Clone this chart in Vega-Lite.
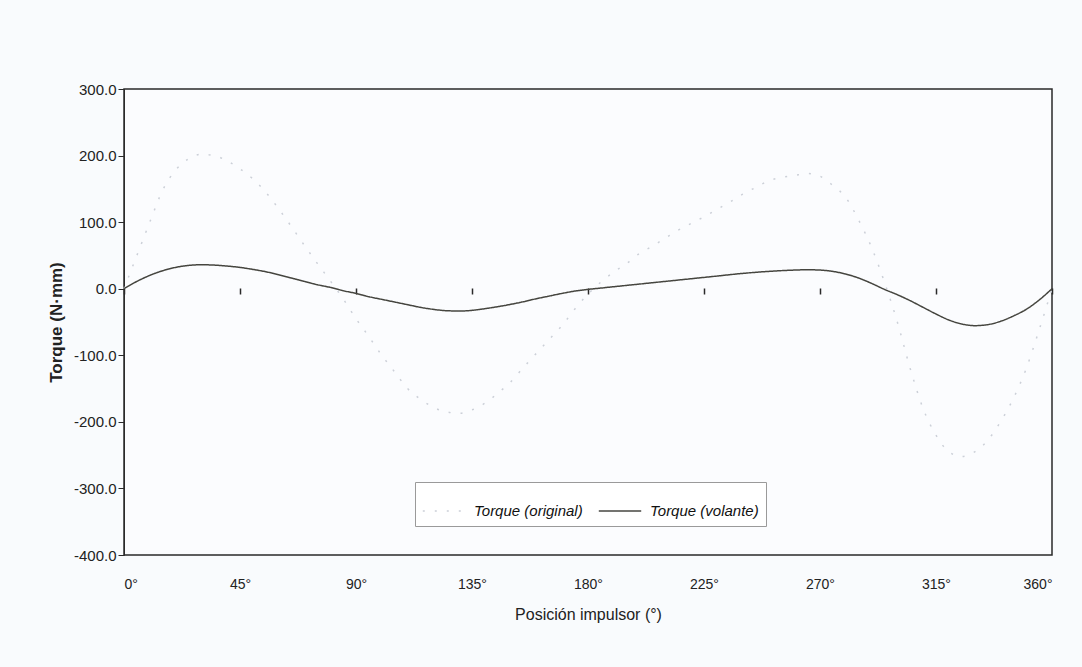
{
  "$schema": "https://vega.github.io/schema/vega-lite/v6.json",
  "width": 928,
  "height": 466,
  "autosize": {"type": "none"},
  "padding": {"left": 124, "top": 89, "right": 30, "bottom": 112},
  "background": "#f9fbfd",
  "config": {
    "font": "Liberation Sans",
    "view": {"stroke": "#2a2a2a", "strokeWidth": 1.5, "fill": "#fbfcfe"},
    "axis": {"grid": false, "labelColor": "#222", "titleColor": "#222", "domainColor": "#2a2a2a", "tickColor": "#2a2a2a"}
  },
  "resolve": {"axis": {"x": "independent"}},
  "layer": [
    {
      "mark": {"type": "rule", "color": "#2a2a2a", "strokeWidth": 1.5},
      "encoding": {
        "x": {"datum": 0, "type": "quantitative", "scale": {"domain": [0, 360], "nice": false},
          "axis": {"orient": "bottom", "offset": -267, "values": [0, 45, 90, 135, 180, 225, 270, 315, 360], "labels": false, "title": null, "domain": false, "ticks": true, "tickSize": 6, "tickWidth": 1.5}},
        "x2": {"datum": 360},
        "y": {"datum": 0, "type": "quantitative"}
      }
    },
    {
      "data": {"values": [
        {"pos": 0, "serie": "Torque (original)", "torque": 0},
        {"pos": 5, "serie": "Torque (original)", "torque": 50},
        {"pos": 10, "serie": "Torque (original)", "torque": 100},
        {"pos": 15, "serie": "Torque (original)", "torque": 148},
        {"pos": 20, "serie": "Torque (original)", "torque": 178},
        {"pos": 25, "serie": "Torque (original)", "torque": 195},
        {"pos": 30, "serie": "Torque (original)", "torque": 202},
        {"pos": 35, "serie": "Torque (original)", "torque": 200},
        {"pos": 40, "serie": "Torque (original)", "torque": 192},
        {"pos": 45, "serie": "Torque (original)", "torque": 180},
        {"pos": 50, "serie": "Torque (original)", "torque": 165},
        {"pos": 55, "serie": "Torque (original)", "torque": 145},
        {"pos": 60, "serie": "Torque (original)", "torque": 120},
        {"pos": 65, "serie": "Torque (original)", "torque": 93},
        {"pos": 70, "serie": "Torque (original)", "torque": 65},
        {"pos": 75, "serie": "Torque (original)", "torque": 38},
        {"pos": 80, "serie": "Torque (original)", "torque": 12},
        {"pos": 85, "serie": "Torque (original)", "torque": -15},
        {"pos": 90, "serie": "Torque (original)", "torque": -45},
        {"pos": 95, "serie": "Torque (original)", "torque": -72},
        {"pos": 100, "serie": "Torque (original)", "torque": -100},
        {"pos": 105, "serie": "Torque (original)", "torque": -125},
        {"pos": 110, "serie": "Torque (original)", "torque": -150},
        {"pos": 115, "serie": "Torque (original)", "torque": -166},
        {"pos": 120, "serie": "Torque (original)", "torque": -178},
        {"pos": 125, "serie": "Torque (original)", "torque": -185},
        {"pos": 130, "serie": "Torque (original)", "torque": -187},
        {"pos": 135, "serie": "Torque (original)", "torque": -182},
        {"pos": 140, "serie": "Torque (original)", "torque": -172},
        {"pos": 145, "serie": "Torque (original)", "torque": -157},
        {"pos": 150, "serie": "Torque (original)", "torque": -140},
        {"pos": 155, "serie": "Torque (original)", "torque": -118},
        {"pos": 160, "serie": "Torque (original)", "torque": -97},
        {"pos": 165, "serie": "Torque (original)", "torque": -76},
        {"pos": 170, "serie": "Torque (original)", "torque": -55},
        {"pos": 175, "serie": "Torque (original)", "torque": -30},
        {"pos": 180, "serie": "Torque (original)", "torque": -8},
        {"pos": 185, "serie": "Torque (original)", "torque": 10},
        {"pos": 190, "serie": "Torque (original)", "torque": 25},
        {"pos": 195, "serie": "Torque (original)", "torque": 38},
        {"pos": 200, "serie": "Torque (original)", "torque": 53},
        {"pos": 205, "serie": "Torque (original)", "torque": 64},
        {"pos": 210, "serie": "Torque (original)", "torque": 76},
        {"pos": 215, "serie": "Torque (original)", "torque": 88},
        {"pos": 220, "serie": "Torque (original)", "torque": 98},
        {"pos": 225, "serie": "Torque (original)", "torque": 108},
        {"pos": 230, "serie": "Torque (original)", "torque": 119},
        {"pos": 235, "serie": "Torque (original)", "torque": 130},
        {"pos": 240, "serie": "Torque (original)", "torque": 142},
        {"pos": 245, "serie": "Torque (original)", "torque": 152},
        {"pos": 250, "serie": "Torque (original)", "torque": 162},
        {"pos": 255, "serie": "Torque (original)", "torque": 167},
        {"pos": 260, "serie": "Torque (original)", "torque": 170},
        {"pos": 265, "serie": "Torque (original)", "torque": 173},
        {"pos": 270, "serie": "Torque (original)", "torque": 169},
        {"pos": 275, "serie": "Torque (original)", "torque": 155},
        {"pos": 280, "serie": "Torque (original)", "torque": 137},
        {"pos": 285, "serie": "Torque (original)", "torque": 103},
        {"pos": 290, "serie": "Torque (original)", "torque": 62},
        {"pos": 295, "serie": "Torque (original)", "torque": 10},
        {"pos": 300, "serie": "Torque (original)", "torque": -50},
        {"pos": 305, "serie": "Torque (original)", "torque": -120},
        {"pos": 310, "serie": "Torque (original)", "torque": -180},
        {"pos": 315, "serie": "Torque (original)", "torque": -220},
        {"pos": 320, "serie": "Torque (original)", "torque": -245},
        {"pos": 325, "serie": "Torque (original)", "torque": -252},
        {"pos": 330, "serie": "Torque (original)", "torque": -245},
        {"pos": 335, "serie": "Torque (original)", "torque": -228},
        {"pos": 340, "serie": "Torque (original)", "torque": -200},
        {"pos": 345, "serie": "Torque (original)", "torque": -165},
        {"pos": 350, "serie": "Torque (original)", "torque": -120},
        {"pos": 355, "serie": "Torque (original)", "torque": -62},
        {"pos": 360, "serie": "Torque (original)", "torque": 0},
        {"pos": 0, "serie": "Torque (volante)", "torque": 0},
        {"pos": 5, "serie": "Torque (volante)", "torque": 11},
        {"pos": 10, "serie": "Torque (volante)", "torque": 20},
        {"pos": 15, "serie": "Torque (volante)", "torque": 27},
        {"pos": 20, "serie": "Torque (volante)", "torque": 32},
        {"pos": 25, "serie": "Torque (volante)", "torque": 35},
        {"pos": 30, "serie": "Torque (volante)", "torque": 36},
        {"pos": 35, "serie": "Torque (volante)", "torque": 35.5},
        {"pos": 40, "serie": "Torque (volante)", "torque": 34},
        {"pos": 45, "serie": "Torque (volante)", "torque": 32},
        {"pos": 50, "serie": "Torque (volante)", "torque": 29},
        {"pos": 55, "serie": "Torque (volante)", "torque": 25.5},
        {"pos": 60, "serie": "Torque (volante)", "torque": 21},
        {"pos": 65, "serie": "Torque (volante)", "torque": 16},
        {"pos": 70, "serie": "Torque (volante)", "torque": 11},
        {"pos": 75, "serie": "Torque (volante)", "torque": 6},
        {"pos": 80, "serie": "Torque (volante)", "torque": 2},
        {"pos": 85, "serie": "Torque (volante)", "torque": -3},
        {"pos": 90, "serie": "Torque (volante)", "torque": -7},
        {"pos": 95, "serie": "Torque (volante)", "torque": -12},
        {"pos": 100, "serie": "Torque (volante)", "torque": -16},
        {"pos": 105, "serie": "Torque (volante)", "torque": -20},
        {"pos": 110, "serie": "Torque (volante)", "torque": -24},
        {"pos": 115, "serie": "Torque (volante)", "torque": -28},
        {"pos": 120, "serie": "Torque (volante)", "torque": -31},
        {"pos": 125, "serie": "Torque (volante)", "torque": -33},
        {"pos": 130, "serie": "Torque (volante)", "torque": -33.5},
        {"pos": 135, "serie": "Torque (volante)", "torque": -32.5},
        {"pos": 140, "serie": "Torque (volante)", "torque": -30},
        {"pos": 145, "serie": "Torque (volante)", "torque": -27},
        {"pos": 150, "serie": "Torque (volante)", "torque": -23.5},
        {"pos": 155, "serie": "Torque (volante)", "torque": -19.5},
        {"pos": 160, "serie": "Torque (volante)", "torque": -15},
        {"pos": 165, "serie": "Torque (volante)", "torque": -11},
        {"pos": 170, "serie": "Torque (volante)", "torque": -7},
        {"pos": 175, "serie": "Torque (volante)", "torque": -3.5},
        {"pos": 180, "serie": "Torque (volante)", "torque": -1},
        {"pos": 185, "serie": "Torque (volante)", "torque": 1},
        {"pos": 190, "serie": "Torque (volante)", "torque": 3},
        {"pos": 200, "serie": "Torque (volante)", "torque": 7},
        {"pos": 210, "serie": "Torque (volante)", "torque": 11},
        {"pos": 220, "serie": "Torque (volante)", "torque": 15},
        {"pos": 230, "serie": "Torque (volante)", "torque": 19},
        {"pos": 240, "serie": "Torque (volante)", "torque": 23},
        {"pos": 250, "serie": "Torque (volante)", "torque": 26},
        {"pos": 260, "serie": "Torque (volante)", "torque": 28},
        {"pos": 265, "serie": "Torque (volante)", "torque": 28.5},
        {"pos": 270, "serie": "Torque (volante)", "torque": 28},
        {"pos": 275, "serie": "Torque (volante)", "torque": 26},
        {"pos": 280, "serie": "Torque (volante)", "torque": 22},
        {"pos": 285, "serie": "Torque (volante)", "torque": 16},
        {"pos": 290, "serie": "Torque (volante)", "torque": 8},
        {"pos": 295, "serie": "Torque (volante)", "torque": -1},
        {"pos": 300, "serie": "Torque (volante)", "torque": -9},
        {"pos": 305, "serie": "Torque (volante)", "torque": -18},
        {"pos": 310, "serie": "Torque (volante)", "torque": -28},
        {"pos": 315, "serie": "Torque (volante)", "torque": -38},
        {"pos": 320, "serie": "Torque (volante)", "torque": -47},
        {"pos": 325, "serie": "Torque (volante)", "torque": -53},
        {"pos": 330, "serie": "Torque (volante)", "torque": -55.5},
        {"pos": 335, "serie": "Torque (volante)", "torque": -54},
        {"pos": 340, "serie": "Torque (volante)", "torque": -49},
        {"pos": 345, "serie": "Torque (volante)", "torque": -41},
        {"pos": 350, "serie": "Torque (volante)", "torque": -31},
        {"pos": 355, "serie": "Torque (volante)", "torque": -17},
        {"pos": 360, "serie": "Torque (volante)", "torque": 0}
      ]},
      "mark": {"type": "line", "interpolate": "monotone", "strokeWidth": 1.5},
      "encoding": {
        "x": {"field": "pos", "type": "quantitative", "scale": {"domain": [0, 360], "nice": false},
          "axis": {"orient": "bottom", "values": [0, 45, 90, 135, 180, 225, 270, 315, 360], "labelExpr": "datum.value + '°'", "title": "Posición impulsor (°)", "domain": false, "ticks": false, "labelPadding": 22, "labelFontSize": 14, "titleFontSize": 16, "titleFontWeight": "normal", "titlePadding": 15}},
        "y": {"field": "torque", "type": "quantitative", "scale": {"domain": [-400, 300], "nice": false},
          "axis": {"values": [-400, -300, -200, -100, 0, 100, 200, 300], "labelExpr": "(datum.value < 0 ? '-' : '') + format(abs(datum.value), '.1f')", "title": "Torque (N·mm)", "tickSize": 6, "labelPadding": 2, "labelFontSize": 15, "titleFontSize": 17, "titleFontWeight": "bold", "titlePadding": 8}},
        "color": {"field": "serie", "type": "nominal", "scale": {"domain": ["Torque (original)", "Torque (volante)"], "range": ["#ccd0d8", "#45453f"]},
          "legend": {"title": null, "orient": "none", "legendX": 291, "legendY": 393, "direction": "horizontal", "fillColor": "#ffffff", "strokeColor": "#9a9a9a", "padding": 7, "labelFontSize": 15, "labelFontStyle": "italic", "labelColor": "#111", "symbolType": "stroke", "symbolSize": 1800, "symbolStrokeWidth": 1.5, "labelOffset": 8, "columnPadding": 12}},
        "strokeDash": {"field": "serie", "type": "nominal", "scale": {"domain": ["Torque (original)", "Torque (volante)"], "range": [[2, 10], [1, 0]]}, "legend": null}
      }
    }
  ]
}
